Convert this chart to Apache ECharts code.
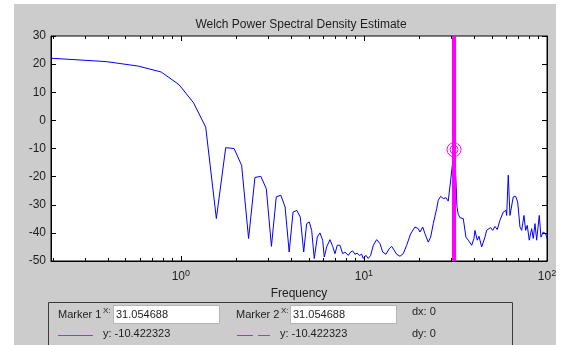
<!DOCTYPE html>
<html>
<head>
<meta charset="utf-8">
<script src="https://cdn.jsdelivr.net/npm/echarts@6/dist/echarts.min.js"></script>
<style>
  html, body { margin: 0; padding: 0; background: #ffffff; }
  #chart { width: 563px; height: 345px; }
</style>
</head>
<body>
<div id="chart"></div>
<script>
// Welch PSD estimate (dB/Hz) against frequency (Hz)
const freq = [
  0.1953125, 0.391, 0.586, 0.781, 0.977, 1.172, 1.367, 1.563, 1.758, 1.953,
  2.148, 2.344, 2.539, 2.734, 2.930, 3.125, 3.320, 3.516, 3.711, 3.906,
  4.102, 4.297, 4.492, 4.688, 4.866, 5.028, 5.182, 5.354, 5.561, 5.753,
  5.952, 6.073, 6.259, 6.524, 6.750, 6.948, 7.151, 7.398, 7.653, 7.878,
  8.048, 8.211, 8.462, 8.679, 8.933, 9.195, 9.430, 9.719, 9.916, 10.26,
  10.56, 10.88, 11.25, 11.74, 12.24, 12.66, 13.19, 13.75, 14.17, 14.59,
  15.09, 15.73, 16.40, 17.12, 18.00, 19.00, 19.81, 20.24, 20.94, 21.55,
  22.46, 23.15, 23.92, 24.97, 25.47, 26.25, 27.13, 28.06, 28.88, 29.25,
  29.70, 31.0546875, 31.25, 31.82, 32.22, 32.75, 33.46, 34.88, 36.08, 37.15,
  38.78, 39.91, 40.42, 41.61, 42.51, 43.97, 45.83, 46.82, 47.90, 49.12,
  50.50, 51.97, 53.49, 55.34, 57.69, 59.68, 60.21, 61.43, 62.76, 65.42,
  67.43, 69.14, 71.18, 72.72, 74.84, 76.46, 78.02, 80.01, 82.46, 84.13,
  85.95, 87.81, 90.73, 92.69, 95.41, 98.33, 100
];
const psd = [
  22.1, 20.9, 19.3, 17.2, 12.7, 6.3, -2.4, -34.9, -9.7, -10.0,
  -16.0, -42.0, -20.3, -19.9, -24.3, -44.8, -27.2, -26.6, -30.8, -46.8,
  -32.6, -32.0, -34.4, -46.8, -36.7, -36.1, -39.1, -49.1, -41.5, -40.0,
  -42.6, -48.6, -45.0, -42.4, -44.8, -47.4, -44.4, -44.4, -47.4, -46.8,
  -46.2, -48.0, -46.8, -46.4, -47.6, -47.2, -48.0, -47.6, -49.1, -48.0,
  -49.1, -48.0, -44.4, -42.4, -43.8, -46.8, -47.6, -45.6, -44.8, -46.0,
  -47.6, -48.3, -47.4, -44.4, -40.3, -37.9, -38.5, -39.7, -37.9, -40.3,
  -43.3, -41.5, -36.7, -31.4, -28.4, -27.0, -27.8, -27.5, -28.7, -29.0,
  -21.9, -10.422323, -11.4, -21.3, -30.6, -33.4, -34.6, -34.9, -41.5, -42.6,
  -44.4, -42.0, -39.1, -42.6, -41.2, -45.0, -41.5, -39.1, -38.7, -38.1,
  -39.1, -37.7, -38.8, -35.5, -32.6, -32.0, -33.8, -19.5, -33.8, -27.2,
  -27.0, -29.0, -37.9, -39.1, -33.8, -39.1, -37.3, -42.6, -38.5, -42.0,
  -36.7, -42.6, -33.8, -41.5, -39.7, -40.3, -42.0
];

// axis ranges and ticks
const xMin = 0.1953125, xMax = 100;
const yMin = -50, yMax = 30, yStep = 10;
const xMajorTicks = [1, 10, 100];
const xMinorTicks = [
  0.2, 0.3, 0.4, 0.5, 0.6, 0.7, 0.8, 0.9,
  2, 3, 4, 5, 6, 7, 8, 9,
  20, 30, 40, 50, 60, 70, 80, 90
];

// data cursor markers
const marker1 = { x: 31.054688, y: -10.422323 };
const marker2 = { x: 31.054688, y: -10.422323 };
const markerFreq = 31.0546875;

const FONT = '"Liberation Sans", Arial, sans-serif';
const TXT = '#1e1e1e';
const MAG = '#ff00ff';

function xAxisDef(position, ticks, len, withLabels) {
  return {
    type: 'log', logBase: 10, min: xMin, max: xMax, position: position,
    axisLine: { show: withLabels, onZero: false, lineStyle: { color: '#000', width: 1 } },
    axisTick: { show: true, inside: true, length: len, customValues: ticks,
                lineStyle: { color: '#000', width: 1 } },
    axisLabel: withLabels ? {
      show: true, customValues: xMajorTicks, margin: 8,
      formatter: function (v) {
        return '{b|10}{s|' + Math.round(Math.log10(v)) + '}';
      },
      rich: {
        b: { fontFamily: FONT, fontSize: 12, color: TXT },
        s: { fontFamily: FONT, fontSize: 9, color: TXT, verticalAlign: 'top', padding: [0, 0, 7, 0] }
      }
    } : { show: false },
    splitLine: { show: false },
    minorTick: { show: false },
    name: (withLabels && position === 'bottom') ? 'Frequency' : '',
    nameLocation: 'middle', nameGap: 26,
    nameTextStyle: { fontFamily: FONT, fontSize: 12, color: TXT }
  };
}

function yAxisDef(position, withLabels) {
  return {
    type: 'value', min: yMin, max: yMax, interval: yStep, position: position,
    axisLine: { show: true, onZero: false, lineStyle: { color: '#000', width: 1 } },
    axisTick: { show: true, inside: true, length: 5, lineStyle: { color: '#000' } },
    axisLabel: { show: withLabels, margin: 5, fontFamily: FONT, fontSize: 12, color: TXT },
    splitLine: { show: false }
  };
}

function panelText(x, y, text, size) {
  return { type: 'text', z: 11, silent: true,
    style: { x: x, y: y, text: text, fontFamily: FONT, fontSize: size || 11, fill: TXT, textVerticalAlign: 'middle' } };
}
function panelStroke(x, y, w) {
  return { type: 'rect', z: 11, silent: true,
    shape: { x: x, y: y, width: w, height: 1 }, style: { fill: MAG } };
}

const chart = echarts.init(document.getElementById('chart'), null, { renderer: 'canvas' });

chart.setOption({
  backgroundColor: '#ffffff',
  animation: false,
  title: {
    text: 'Welch Power Spectral Density Estimate',
    left: 296, top: 14, textAlign: 'center',
    textStyle: { fontFamily: FONT, fontSize: 12, fontWeight: 'normal', color: TXT }
  },
  grid: {
    left: 51, top: 36, width: 496, height: 225,
    show: true, backgroundColor: '#ffffff', borderColor: '#000', borderWidth: 1
  },
  xAxis: [
    xAxisDef('bottom', xMajorTicks, 5, true),
    xAxisDef('bottom', xMinorTicks, 3, false),
    xAxisDef('top', xMajorTicks, 5, false),
    xAxisDef('top', xMinorTicks, 3, false)
  ],
  yAxis: [yAxisDef('left', true), yAxisDef('right', false)],
  series: [
    {
      name: 'psd', type: 'line', xAxisIndex: 0, yAxisIndex: 0,
      data: freq.map((f, i) => [f, psd[i]]),
      showSymbol: false, symbol: 'none',
      lineStyle: { color: '#0000ff', width: 1 },
      z: 2
    },
    {
      name: 'cursor', type: 'line', xAxisIndex: 0, yAxisIndex: 0,
      data: [[markerFreq, yMin], [markerFreq, yMax]],
      showSymbol: false, symbol: 'none',
      lineStyle: { color: MAG, width: 4 },
      z: 3
    },
    {
      name: 'ring outer', type: 'scatter', xAxisIndex: 0, yAxisIndex: 0,
      data: [[markerFreq, marker1.y]],
      symbol: 'circle', symbolSize: 14,
      itemStyle: { color: 'transparent', borderColor: MAG, borderWidth: 1, opacity: 1 },
      z: 4
    },
    {
      name: 'ring inner', type: 'scatter', xAxisIndex: 0, yAxisIndex: 0,
      data: [[markerFreq, marker2.y]],
      symbol: 'circle', symbolSize: 8,
      itemStyle: { color: 'transparent', borderColor: MAG, borderWidth: 1, opacity: 1 },
      z: 4
    }
  ],
  graphic: [
    // figure background
    { type: 'rect', z: -10, silent: true,
      shape: { x: 14, y: 4, width: 542, height: 345 },
      style: { fill: '#cccccc' } },
    // marker readout panel
    { type: 'rect', z: 10, silent: true,
      shape: { x: 48.5, y: 302.5, width: 464, height: 60 },
      style: { fill: 'none', stroke: '#3c3c3c', lineWidth: 1 } },
    panelText(58, 315, 'Marker 1'),
    panelText(103, 311, 'X:', 8),
    { type: 'rect', z: 10, silent: true, shape: { x: 113.5, y: 305.5, width: 106, height: 18 },
      style: { fill: '#ffffff', stroke: '#b4b4b4', lineWidth: 1 } },
    panelText(116, 315, String(marker1.x)),
    panelText(236, 315, 'Marker 2'),
    panelText(281, 311, 'X:', 8),
    { type: 'rect', z: 10, silent: true, shape: { x: 290.5, y: 305.5, width: 106, height: 18 },
      style: { fill: '#ffffff', stroke: '#b4b4b4', lineWidth: 1 } },
    panelText(293, 315, String(marker2.x)),
    panelText(412, 312, 'dx: ' + (marker2.x - marker1.x)),
    // marker 1 line key (solid)
    panelStroke(58, 335, 35),
    panelText(103, 334, 'y: ' + marker1.y),
    // marker 2 line key (dashed)
    panelStroke(237, 335, 16),
    panelStroke(258, 335, 12),
    panelText(280, 334, 'y: ' + marker2.y),
    panelText(412, 334, 'dy: ' + (marker2.y - marker1.y))
  ]
});
</script>
</body>
</html>
